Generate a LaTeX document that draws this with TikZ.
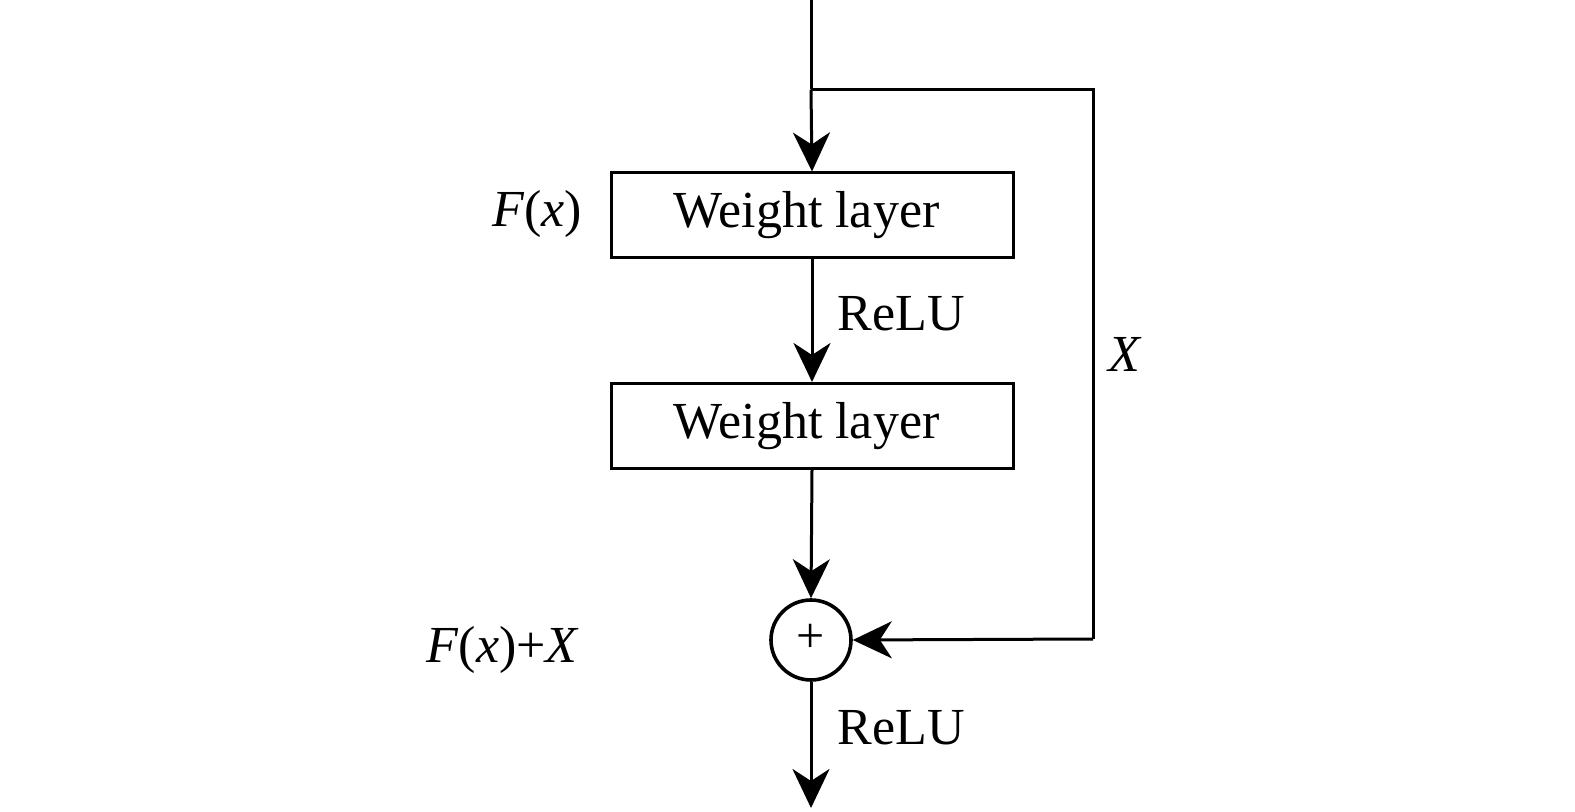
\documentclass[tikz,border=0pt]{standalone}
\usepackage{fontspec}
\setmainfont{Liberation Serif}
\usetikzlibrary{arrows.meta}
\begin{document}
\begin{tikzpicture}[x=0.5pt,y=-0.5pt,
  line width=1.5pt,
  arr/.style={-{Stealth[length=19.5pt,width=18.5pt,inset=6pt]}},
  layerbox/.style={draw,minimum width=201pt,minimum height=42.5pt,inner sep=0pt,font=\fontsize{26}{28}\selectfont},
  lbl/.style={font=\fontsize{26}{28}\selectfont,inner sep=0pt}]
\useasboundingbox (0,0) rectangle (1575,812);
\coordinate (top) at (811,0);
\coordinate (split) at (811,89.5);
\coordinate (c1) at (1093,89.5);
\coordinate (c2) at (1093,639);
\coordinate (out) at (811,808);
\node[layerbox] (w1) at (812,215.5) {Weight layer\kern5.5pt};
\node[layerbox] (w2) at (812,426) {Weight layer\kern5.5pt};
\node[draw,circle,line width=1.8pt,minimum size=40pt,inner sep=0pt] (sum) at (811,640) {};
\node[font=\fontsize{25}{26}\selectfont,inner sep=0pt] (plus) at (811,638) {+};
\draw (top) -- (split);
\draw[arr] (split) -- (w1.north);
\draw (split) -- (c1) -- (c2);
\draw[arr] (c2) -- (sum.east);
\draw[arr] (w1.south) -- (w2.north);
\draw[arr] (w2.south) -- (sum.north);
\draw[arr] (sum.south) -- (out);
\node[lbl] (fx) at (537,214) {\textit{F}(\textit{x})};
\node[lbl,anchor=west] (relu1) at (836,314) {ReLU};
\node[lbl] (xl) at (1125,354) {\textit{X}};
\node[lbl] (fxx) at (503,650) {\textit{F}(\textit{x})+\textit{X}};
\node[lbl,anchor=west] (relu2) at (836,728) {ReLU};
\end{tikzpicture}
\end{document}
